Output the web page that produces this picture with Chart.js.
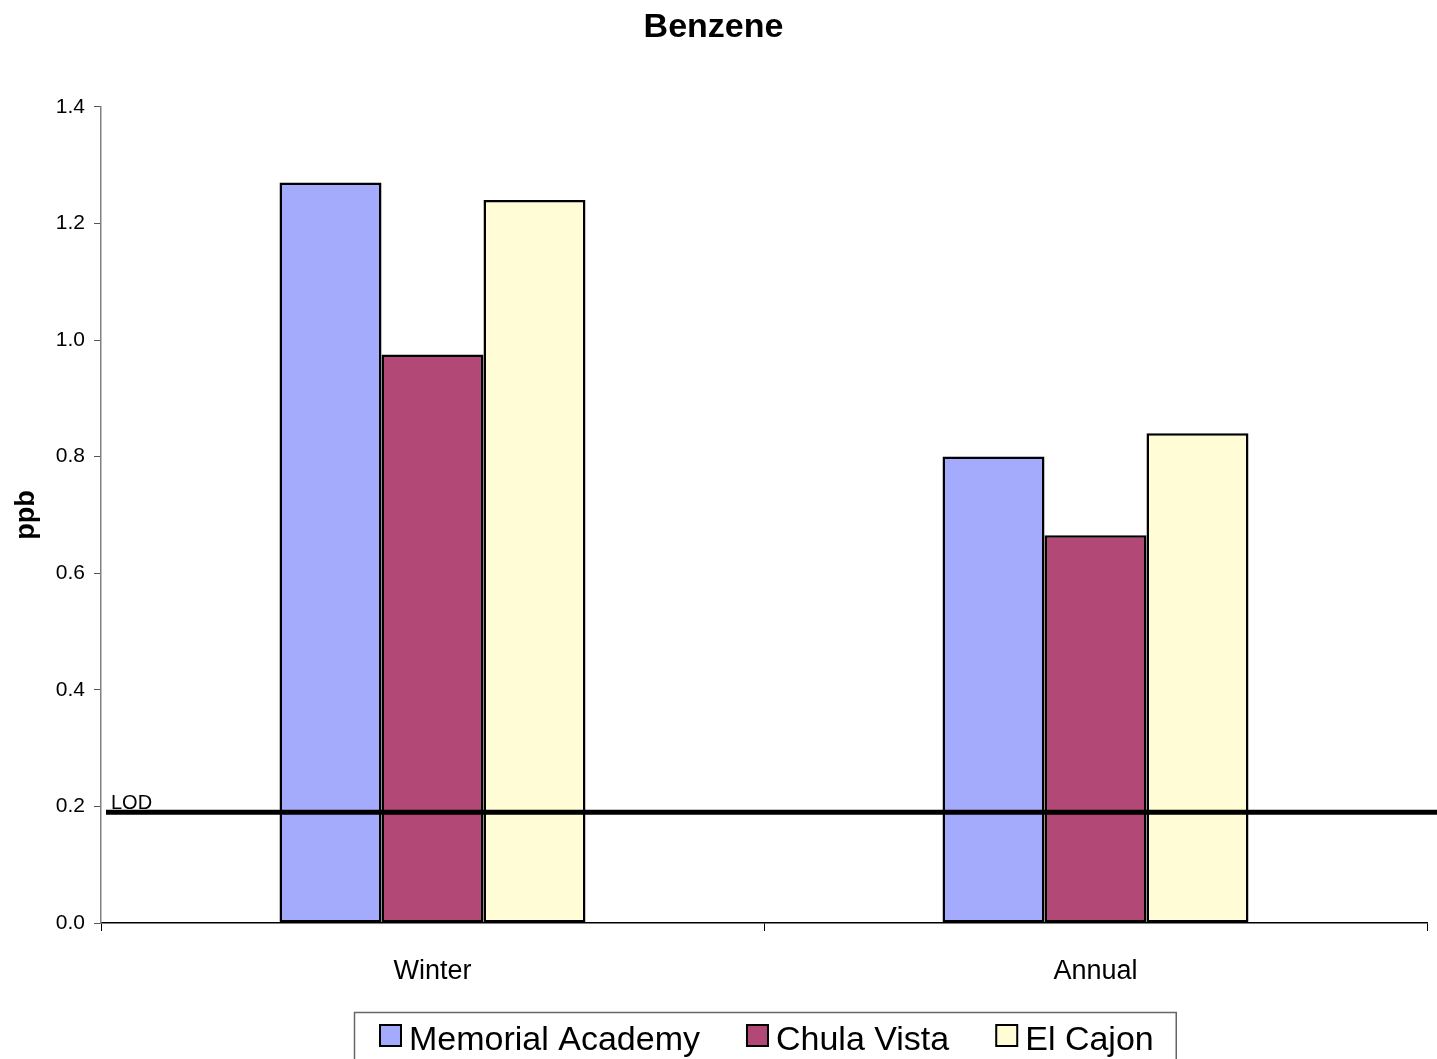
<!DOCTYPE html>
<html>
<head>
<meta charset="utf-8">
<title>Benzene</title>
<script src="https://cdn.jsdelivr.net/npm/chart.js@4.4.1/dist/chart.umd.min.js"></script>
<style>
  html, body { margin: 0; padding: 0; background: #ffffff; }
  #wrap { width: 1437px; height: 1059px; position: relative; }
</style>
</head>
<body>
<div id="wrap"><canvas id="chart" width="1437" height="1059"></canvas></div>
<script>
// Sampling periods on the x axis
const periods = ['Winter', 'Annual'];

// Monitoring sites
const sites = ['Memorial Academy', 'Chula Vista', 'El Cajon'];

// Benzene concentrations (ppb) per site, in period order
const memorialAcademy = [1.27, 0.80];
const chulaVista = [0.975, 0.665];
const elCajon = [1.24, 0.84];

// Limit of detection (ppb)
const lodValue = 0.19;
const lodLabel = 'LOD';

// Value axis ticks
const yTicks = [0.0, 0.2, 0.4, 0.6, 0.8, 1.0, 1.2, 1.4];

const siteColors = ['#A4AAFC', '#B24876', '#FFFCD6'];
const FONT = "'Liberation Sans', Arial, Helvetica, sans-serif";

const seriesValues = [memorialAcademy, chulaVista, elCajon];

// Horizontal limit-of-detection line across the plot
const lodLinePlugin = {
  id: 'lodLine',
  afterDatasetsDraw(chart) {
    const { ctx, chartArea, scales } = chart;
    const y = scales.y.getPixelForValue(lodValue);
    ctx.save();
    ctx.fillStyle = '#000';
    ctx.font = '20px ' + FONT;
    ctx.textAlign = 'left';
    ctx.textBaseline = 'alphabetic';
    ctx.fillText(lodLabel, chartArea.left + 10, y - 3);
    ctx.strokeStyle = '#000';
    ctx.lineWidth = 5;
    ctx.beginPath();
    ctx.moveTo(chartArea.left + 5, y);
    ctx.lineTo(chart.width, y);
    ctx.stroke();
    ctx.restore();
  }
};

// Boxed legend under the category axis
const boxedLegendPlugin = {
  id: 'boxedLegend',
  afterDraw(chart) {
    const { ctx, chartArea } = chart;
    ctx.save();
    ctx.font = '34px ' + FONT;
    const sq = 21, gap = 8, spacing = 47;
    const items = chart.data.datasets.map((ds) => ({
      label: ds.label,
      color: ds.backgroundColor,
      w: ctx.measureText(ds.label).width
    }));
    let total = 0;
    items.forEach((it, i) => {
      total += sq + gap + it.w + (i < items.length - 1 ? spacing : 0);
    });
    const cx = (chartArea.left + chartArea.right) / 2;
    let x = Math.round(cx - total / 2) + 3;
    const top = 1012;
    const boxLeft = x - 26;
    const boxRight = x + total + 22;
    ctx.strokeStyle = '#666';
    ctx.lineWidth = 1.5;
    ctx.strokeRect(boxLeft + 0.5, top + 0.5, boxRight - boxLeft, 80);

    items.forEach((it) => {
      ctx.fillStyle = it.color;
      ctx.fillRect(x, 1025, sq, sq);
      ctx.strokeStyle = '#000';
      ctx.lineWidth = 2;
      ctx.strokeRect(x, 1025, sq, sq);
      ctx.fillStyle = '#000';
      ctx.textAlign = 'left';
      ctx.textBaseline = 'alphabetic';
      ctx.fillText(it.label, x + sq + gap, 1050);
      x += sq + gap + it.w + spacing;
    });
    ctx.restore();
  }
};

new Chart(document.getElementById('chart'), {
  type: 'bar',
  data: {
    labels: periods,
    datasets: sites.map((name, i) => ({
      label: name,
      data: seriesValues[i],
      backgroundColor: siteColors[i],
      borderColor: '#000000',
      borderWidth: 2.5,
      borderSkipped: false,
      barPercentage: 1.0,
      categoryPercentage: 0.4615
    }))
  },
  options: {
    responsive: false,
    animation: false,
    devicePixelRatio: 1,
    layout: { padding: { left: 0, right: 10, top: 0, bottom: 47.6 } },
    plugins: {
      legend: { display: false },
      tooltip: { enabled: false },
      title: {
        display: true,
        text: 'Benzene',
        color: '#000',
        font: { family: FONT, size: 34, weight: 'bold' },
        padding: { top: 7, bottom: 59 }
      }
    },
    scales: {
      x: {
        grid: {
          offset: true,
          drawOnChartArea: false,
          tickLength: 8,
          color: '#000'
        },
        border: { color: '#000', width: 1.5 },
        ticks: {
          color: '#000',
          padding: 24,
          font: { family: FONT, size: 27 }
        }
      },
      y: {
        min: 0,
        max: 1.4,
        afterFit(scale) { scale.width = 101; },
        afterBuildTicks(scale) {
          scale.ticks = yTicks.map((v) => ({ value: v }));
        },
        grid: {
          drawOnChartArea: false,
          tickLength: 7,
          color: '#555'
        },
        border: { color: '#808080', width: 1.5 },
        ticks: {
          color: '#000',
          padding: 9,
          font: { family: FONT, size: 21 },
          callback: (v) => Number(v).toFixed(1)
        },
        title: {
          display: true,
          text: 'ppb',
          color: '#000',
          font: { family: FONT, size: 27, weight: 'bold' },
          padding: { top: 10, bottom: 0 }
        }
      }
    }
  },
  plugins: [lodLinePlugin, boxedLegendPlugin]
});
</script>
</body>
</html>
